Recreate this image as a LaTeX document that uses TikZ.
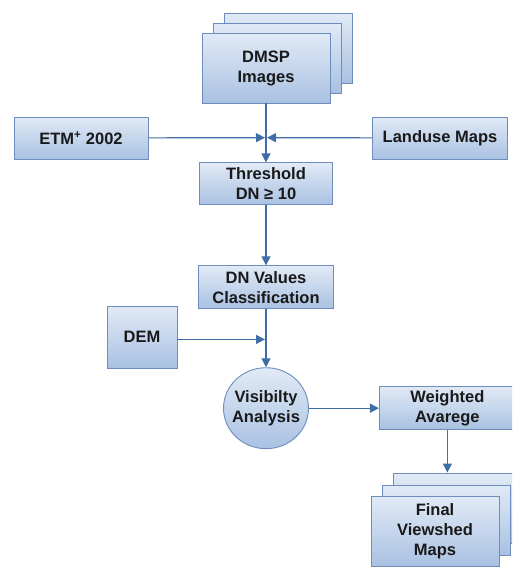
\documentclass[tikz,border=0pt]{standalone}
\usepackage{fontspec}
\setmainfont{Liberation Sans}
\usepackage{xcolor}
\usetikzlibrary{arrows.meta,positioning,shapes.geometric,calc}

\definecolor{boxtop}{HTML}{E1EAF6}
\definecolor{boxbot}{HTML}{A9C1E2}
\definecolor{boxline}{HTML}{6E8DBD}
\definecolor{flowline}{HTML}{3F6EA6}

\begin{document}
\begin{tikzpicture}[x=1pt, y=-1pt, node distance=59pt,
  every node/.style={font=\fontsize{16.5}{20}\selectfont\bfseries, text=black!90, align=center},
  procbox/.style={draw=boxline, line width=0.9pt, top color=boxtop, bottom color=boxbot, inner sep=2pt},
  procround/.style={procbox, ellipse, inner xsep=-5pt, inner ysep=0pt},
  flow/.style={draw=flowline, line width=1.2pt, -{Triangle[length=9pt,width=9pt]}}]
\useasboundingbox (0,0) rectangle (512,570);
\clip (0,0) rectangle (512,570);
% DMSP stack
\node[procbox, minimum width=128pt, minimum height=70pt] (dmspc) at (288,48) {};
\node[procbox, minimum width=128pt, minimum height=70pt] (dmspb) at (277,58) {};
\node[procbox, minimum width=128pt, minimum height=70pt] (dmsp) at (266,68) {DMSP\\Images};
% main column
\node[procbox, minimum width=133pt, minimum height=42pt, below=of dmsp] (thresh) {Threshold\\DN ≥ 10};
\node[procbox, minimum width=135pt, minimum height=43pt, below=60pt of thresh] (dnval) {DN Values\\Classification};
\node[procround, minimum width=85pt, minimum height=81pt, below=58pt of dnval] (vis) {Visibilty\\Analysis};
% side inputs
\node[procbox, minimum width=134pt, minimum height=42pt] (etm) at (81,138) {ETM\textsuperscript{+} 2002};
\node[procbox, minimum width=135pt, minimum height=42pt] (landuse) at (440,138) {Landuse Maps};
\node[procbox, minimum width=70pt, minimum height=62pt] (dem) at (142,337) {DEM};
% output
\node[procbox, minimum width=136pt, minimum height=43pt, right=70pt of vis] (weighted) {Weighted\\Avarege};
\node[procbox, minimum width=128pt, minimum height=70pt] (finalc) at (457,508) {};
\node[procbox, minimum width=128pt, minimum height=70pt] (finalb) at (446,520) {};
\node[procbox, minimum width=128pt, minimum height=70pt] (final) at (435,531) {Final\\Viewshed\\Maps};
% junctions on the main line
\coordinate (joinA) at ($(dmsp.south)!0.58!(thresh.north)$);
\coordinate (joinB) at ($(dnval.south)!0.52!(vis.north)$);
\draw[flow] (dmsp) -- (thresh);
\draw[flow, shorten >=1pt] (etm) -- (joinA);
\draw[flow, shorten >=1pt] (landuse) -- (joinA);
\draw[flow] (thresh) -- (dnval);
\draw[flow] (dnval) -- (vis);
\draw[flow, shorten >=1pt] (dem.east |- joinB) -- (joinB);
\draw[flow] (vis) -- (weighted);
\draw[flow] (weighted.south) -- (weighted.south |- finalc.north);
\end{tikzpicture}
\end{document}
